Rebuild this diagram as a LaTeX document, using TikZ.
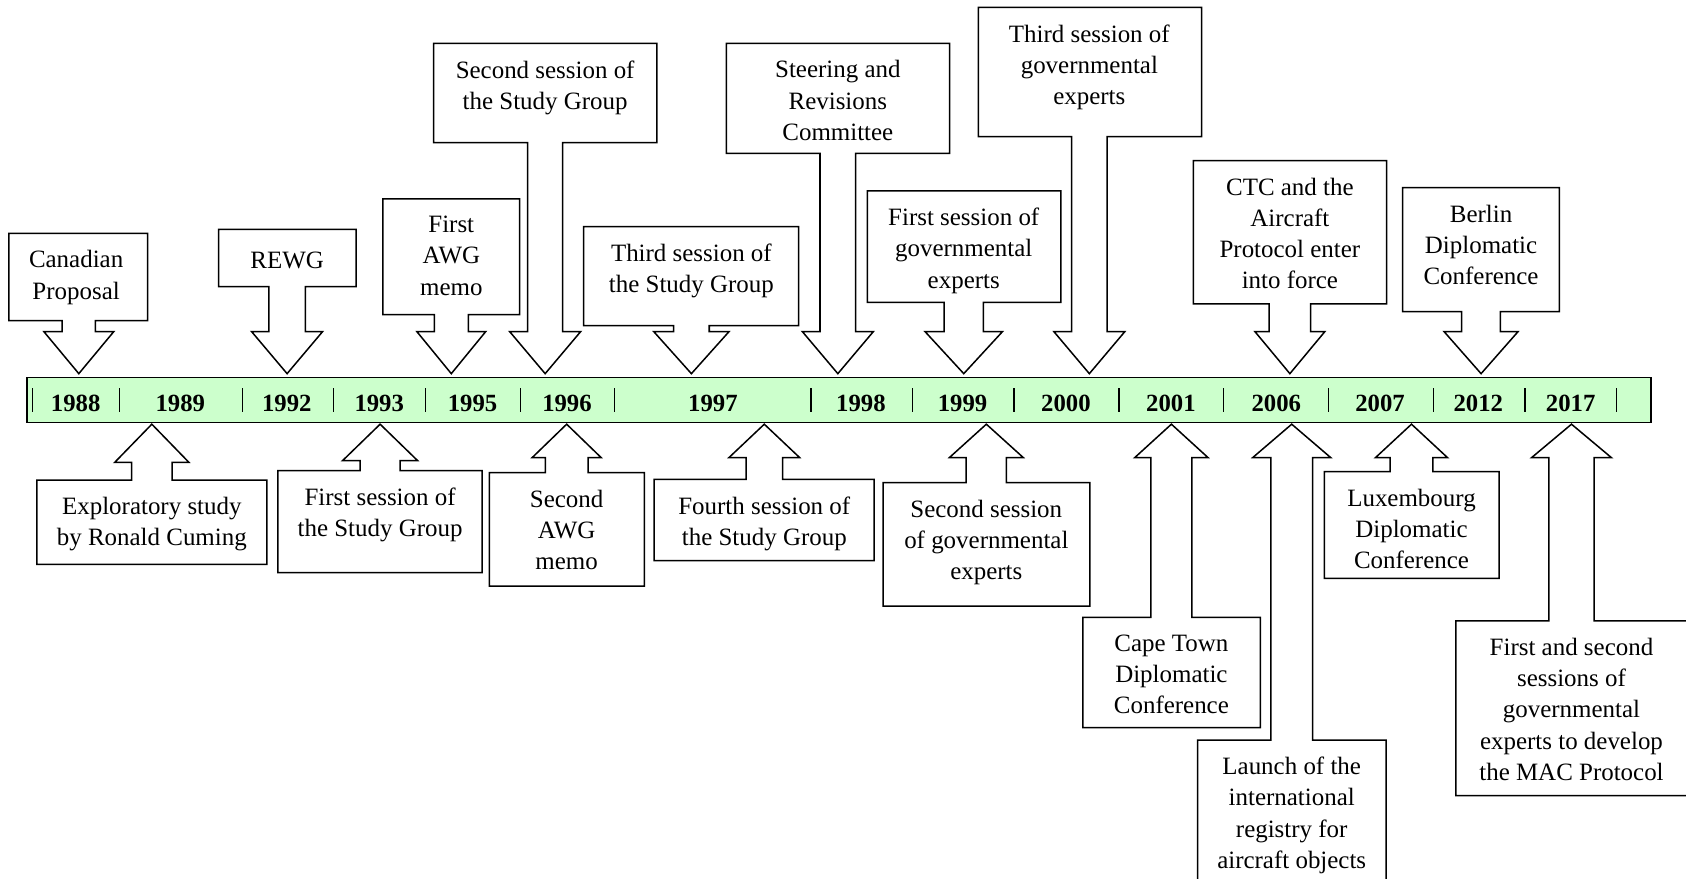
\documentclass[tikz,border=0pt]{standalone}
\usepackage{fontspec}
\setmainfont{Liberation Serif}
\usetikzlibrary{calc}
\definecolor{barfill}{HTML}{CCFFCC}
\tikzset{
  callout/.style={draw=black, line width=1.4pt, fill=white, line join=miter},
  txt/.style={inner sep=0pt, outer sep=0pt, align=center, anchor=north,
    font=\fontsize{23.2}{29}\selectfont, execute at begin node=\strut},
  yearlbl/.style={inner sep=0pt, anchor=base, font=\fontsize{23}{28}\selectfont\bfseries},
  timebar/.style={draw=black, line width=1.4pt, fill=barfill},
  sepline/.style={draw=black, line width=1.1pt},
}
\def\toff{16}
\def\tdx{0}
% #1 name, #2 x1, #3 y1, #4 x2, #5 y2, #6 tip x, #7 stem half width, #8 head half width, #9 text
\newcommand{\downcallout}[9]{%
  \draw[callout] (#2,#3) -- (#4,#3) -- (#4,#5) -- ({#6+#7},#5) -- ({#6+#7},\hb) -- ({#6+#8},\hb)
    -- (#6,\tp) -- ({#6-#8},\hb) -- ({#6-#7},\hb) -- ({#6-#7},#5) -- (#2,#5) -- cycle;
  \node[txt] (#1) at ({#6+\tdx},{#3+\toff}) {#9};
}
\newcommand{\upcallout}[9]{%
  \draw[callout] (#2,#3) -- ({#6-#7},#3) -- ({#6-#7},\hb) -- ({#6-#8},\hb) -- (#6,\tp)
    -- ({#6+#8},\hb) -- ({#6+#7},\hb) -- ({#6+#7},#3) -- (#4,#3) -- (#4,#5) -- (#2,#5) -- cycle;
  \node[txt] (#1) at ({#6+\tdx},{#3+\toff}) {#9};
}
\begin{document}
\begin{tikzpicture}[x=1pt,y=-1pt]
\useasboundingbox (0,0) rectangle (1568,817);
\clip (0,0) rectangle (1568,817);
% time bar
\draw[timebar] (25,351) rectangle (1535.4,393.1);
\foreach \x in {30.6,111.3,225.2,310.5,395.9,484.2,571.6,754.2,848.7,943,1040.7,1137.8,1235.6,1333,1418.2,1503.6}
  \draw[sepline] (\x,361) -- (\x,383);
\foreach \x/\yr in {70.4/1988,167.7/1989,266.7/1992,352.7/1993,439.5/1995,527.3/1996,663/1997,800.7/1998,895.2/1999,991.3/2000,1089/2001,1187/2006,1283.4/2007,1374.8/2012,1460.7/2017}
  \node[yearlbl] (y\yr) at (\x,383) {\yr};
% callouts above the bar
\def\tp{347.5}\def\hb{308.4}
\def\tdx{-2.5}
\downcallout{canadian}{8.3}{217}{137.2}{298.2}{73.3}{15.5}{32.5}{Canadian\\Proposal}
\def\tdx{0}
\downcallout{rewg}{203.3}{213.3}{331.1}{266.6}{267}{17}{33}{REWG}
\downcallout{awgone}{356}{185}{483.2}{292.7}{419.7}{15.8}{32}{First\\AWG\\memo}
\downcallout{sgtwo}{403.2}{40.3}{610.8}{132.7}{507}{16.3}{33}{Second session of\\the Study Group}
\downcallout{sgthree}{542.7}{210.8}{742.7}{302.9}{643}{16.6}{35}{Third session of\\the Study Group}
\downcallout{steer}{675.5}{40.3}{883.1}{142.6}{779.2}{16.6}{33}{Steering and\\Revisions\\Committee}
\downcallout{govone}{806.6}{177.6}{986.7}{281.2}{896.3}{18.3}{36}{First session of\\governmental\\experts}
\downcallout{govthree}{909.8}{6.8}{1117.5}{127.1}{1013.1}{16.6}{33}{Third session of\\governmental\\experts}
\downcallout{ctc}{1109.8}{149.4}{1289.6}{282.7}{1199.6}{19.3}{32.5}{CTC and the\\Aircraft\\Protocol enter\\into force}
\downcallout{berlin}{1304.4}{174.5}{1450.2}{289.8}{1377.4}{18}{34.4}{Berlin\\Diplomatic\\Conference}
% callouts below the bar
\def\tp{394.5}
\def\hb{430}
\upcallout{explor}{34.2}{446.4}{248.1}{524.8}{141.2}{18.8}{34.5}{Exploratory study\\by Ronald Cuming}
\def\hb{428.4}
\upcallout{sgone}{258.4}{437.7}{448.4}{532.6}{353.5}{18.6}{34.9}{First session of\\the Study Group}
\def\hb{425.5}
\upcallout{awgtwo}{455.1}{439.6}{599.2}{545}{527}{19.9}{32}{Second\\AWG\\memo}
\upcallout{sgfour}{608.3}{445.8}{813}{521.4}{710.8}{17}{32.8}{Fourth session of\\the Study Group}
\upcallout{govtwo}{821.3}{448.9}{1013.5}{563.6}{917.3}{18.7}{34.3}{Second session\\of governmental\\experts}
\upcallout{cape}{1007}{574.1}{1172.1}{676.7}{1089.4}{19}{34}{Cape Town\\Diplomatic\\Conference}
\upcallout{launch}{1113.8}{688.2}{1289}{830}{1201.3}{19.5}{36.2}{Launch of the\\international\\registry for\\aircraft objects}
\upcallout{lux}{1231.6}{438.6}{1394.1}{537.8}{1312.7}{19.9}{33.4}{Luxembourg\\Diplomatic\\Conference}
\upcallout{mac}{1354}{577.5}{1580}{740}{1461.5}{21}{37}{First and second\\sessions of\\governmental\\experts to develop\\the MAC Protocol}
\end{tikzpicture}
\end{document}
